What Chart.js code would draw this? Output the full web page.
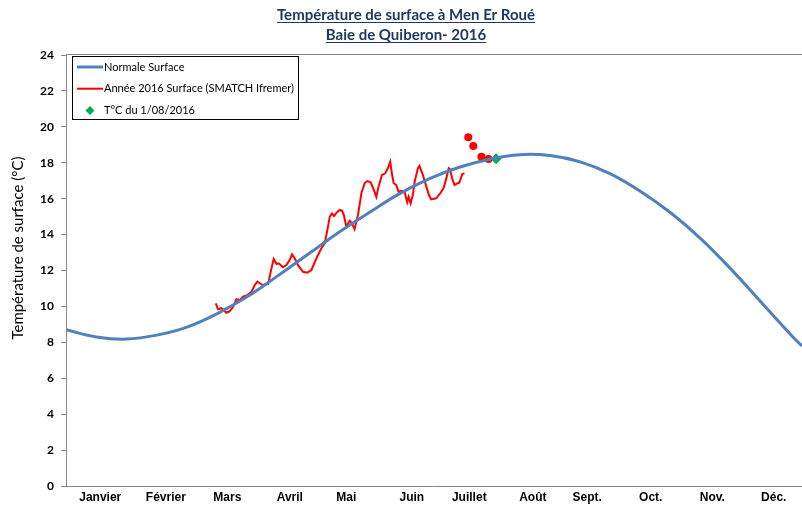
<!DOCTYPE html>
<html>
<head>
<meta charset="utf-8">
<script src="https://cdn.jsdelivr.net/npm/chart.js@4.4.0/dist/chart.umd.min.js"></script>
<style>
html, body { margin: 0; padding: 0; background: #fff; }
#wrap { width: 802px; height: 506px; }
</style>
</head>
<body>
<div id="wrap"><canvas id="graph1"></canvas></div>
<script>
// titles
const titleLines = ["Température de surface à Men Er Roué", "Baie de Quiberon- 2016"];
const yTitle = "Température de surface (°C)";

// x axis: day of year, month labels
const monthLabels = ["Janvier", "Février", "Mars", "Avril", "Mai", "Juin", "Juillet", "Août", "Sept.", "Oct.", "Nov.", "Déc."];
const monthTickDays = [17, 49.5, 80, 111, 139, 171.5, 200, 231.5, 258.5, 290, 320.5, 351];
const yTicks = [0, 2, 4, 6, 8, 10, 12, 14, 16, 18, 20, 22, 24];

// normale surface (read every 15 days)
const normalDays = [0, 15, 30, 45, 60, 75, 90, 105, 120, 135, 150, 165, 180, 195, 210, 225, 240, 255, 270, 285, 300, 315, 330, 345, 360, 365];
const normalTemps = [8.70, 8.30, 8.18, 8.40, 8.85, 9.60, 10.55, 11.70, 12.90, 14.10, 15.20, 16.25, 17.10, 17.75, 18.20, 18.45, 18.40, 18.05, 17.38, 16.40, 15.20, 13.75, 12.05, 10.20, 8.35, 7.80];

// année 2016 surface (SMATCH Ifremer)
const obsDays = [74.3, 75.4, 77.1, 79.6, 81.2, 82.9, 84.5, 86.2, 87.8, 90.0, 92.0, 93.6, 94.9, 96.1, 97.7, 100.2, 101.0, 101.9, 103.0, 104.4, 105.5, 107.6, 109.3, 110.9, 112.1, 113.4, 115.1, 117.5, 119.7, 121.7, 124.2, 126.6, 128.3, 129.6, 130.8, 131.9, 132.9, 134.1, 135.7, 136.9, 137.8, 139.0, 140.7, 141.8, 143.1, 144.8, 146.5, 148.1, 149.4, 151.1, 152.7, 153.9, 155.0, 156.7, 158.3, 159.6, 160.8, 161.6, 162.5, 163.8, 164.9, 166.3, 167.9, 169.2, 169.9, 170.9, 172.0, 172.9, 174.5, 175.3, 177.0, 178.7, 180.0, 181.1, 183.6, 185.6, 187.2, 188.6, 189.8, 190.5, 191.5, 192.7, 194.3, 195.1, 196.5, 197.6];
const obsTemps = [10.17, 9.84, 9.90, 9.65, 9.74, 9.98, 10.40, 10.36, 10.54, 10.63, 10.82, 11.19, 11.38, 11.29, 11.19, 11.25, 11.65, 12.12, 12.64, 12.36, 12.40, 12.18, 12.30, 12.58, 12.90, 12.68, 12.30, 11.93, 11.88, 12.03, 12.68, 13.23, 13.51, 14.25, 14.99, 15.18, 15.03, 15.21, 15.37, 15.33, 15.09, 14.44, 14.77, 14.63, 14.30, 15.09, 16.30, 16.86, 16.98, 16.91, 16.48, 16.10, 16.67, 17.32, 17.41, 17.69, 18.06, 17.41, 16.86, 16.76, 16.39, 16.44, 16.39, 15.80, 16.10, 15.74, 16.20, 16.94, 17.69, 17.82, 17.32, 16.67, 16.20, 15.96, 16.02, 16.30, 16.58, 17.13, 17.69, 17.63, 17.13, 16.76, 16.86, 16.90, 17.37, 17.41];

// isolated measurements end of July
const dotDays = [199.5, 202, 206, 209.5];
const dotTemps = [19.42, 18.93, 18.34, 18.21];

// T°C du 1/08/2016
const aug1Day = [213.3];
const aug1Temp = [18.22];

const pairs = (xs, ys) => xs.map((x, i) => ({ x: x, y: ys[i] }));

const titlePlugin = {
    id: "titleLines",
    afterDraw(chart) {
        const ctx = chart.ctx;
        ctx.save();
        ctx.font = "bold 15px Lato";
        ctx.fillStyle = "#1F3864";
        ctx.strokeStyle = "#1F3864";
        ctx.lineWidth = 1;
        ctx.textAlign = "center";
        ctx.textBaseline = "alphabetic";
        const cx = 406;
        const base = [20, 40];
        titleLines.forEach((t, i) => {
            ctx.fillText(t, cx, base[i]);
            const w = ctx.measureText(t).width;
            ctx.beginPath();
            ctx.moveTo(cx - w / 2, base[i] + 2.5);
            ctx.lineTo(cx + w / 2, base[i] + 2.5);
            ctx.stroke();
        });
        // y axis title
        ctx.font = "15px Lato";
        ctx.fillStyle = "#000";
        ctx.translate(18, 248);
        ctx.rotate(-Math.PI / 2);
        ctx.textBaseline = "middle";
        ctx.fillText(yTitle, 0, 0);
        ctx.restore();
    }
};

const legendBox = {
    id: "legendBox",
    beforeDatasetsDraw(chart) {
        // plot area top border
        const ctx = chart.ctx, a = chart.chartArea;
        ctx.save();
        ctx.strokeStyle = "#868686";
        ctx.lineWidth = 1;
        ctx.beginPath();
        ctx.moveTo(a.left, a.top - 0.5);
        ctx.lineTo(a.right, a.top - 0.5);
        ctx.stroke();
        ctx.restore();
    },
    afterDatasetsDraw(chart) {
        const ctx = chart.ctx;
        const x = chart.chartArea.left + 6, y = chart.chartArea.top + 1;
        ctx.save();
        ctx.fillStyle = "#fff";
        ctx.fillRect(x, y, 226, 63);
        ctx.strokeStyle = "#000";
        ctx.lineWidth = 1;
        ctx.strokeRect(x + 0.5, y + 0.5, 226, 63);
        ctx.font = "11px Lato";
        ctx.textBaseline = "middle";
        ctx.textAlign = "left";
        let row = 0;
        chart.data.datasets.forEach(ds => {
            if (!ds.inLegend) return;
            const ly = y + 11 + row * 21.7;
            if (ds.showLine === false) {
                ctx.fillStyle = ds.backgroundColor;
                ctx.beginPath();
                ctx.moveTo(x + 18, ly - 4.5);
                ctx.lineTo(x + 22.5, ly);
                ctx.lineTo(x + 18, ly + 4.5);
                ctx.lineTo(x + 13.5, ly);
                ctx.closePath();
                ctx.fill();
            } else {
                ctx.strokeStyle = ds.borderColor;
                ctx.lineWidth = ds.borderWidth;
                ctx.beginPath();
                ctx.moveTo(x + 5, ly);
                ctx.lineTo(x + 31, ly);
                ctx.stroke();
            }
            ctx.fillStyle = "#000";
            ctx.fillText(ds.label, x + 32, ly);
            row++;
        });
        ctx.restore();
    }
};

new Chart(document.getElementById("graph1"), {
    type: "line",
    data: {
        datasets: [
            {
                label: "Normale Surface",
                inLegend: true,
                data: pairs(normalDays, normalTemps),
                borderColor: "#4F81BD",
                borderWidth: 3,
                pointRadius: 0,
                tension: 0.4,
                fill: false
            },
            {
                label: "Année 2016 Surface (SMATCH Ifremer)",
                inLegend: true,
                data: pairs(obsDays, obsTemps),
                borderColor: "#FF0000",
                borderWidth: 2,
                pointRadius: 0,
                tension: 0,
                fill: false
            },
            {
                label: "mesures",
                inLegend: false,
                data: pairs(dotDays, dotTemps),
                showLine: false,
                pointRadius: 4,
                pointStyle: "circle",
                backgroundColor: "#FF0000",
                borderColor: "#FF0000",
                borderWidth: 0
            },
            {
                label: "T°C du 1/08/2016",
                inLegend: true,
                data: pairs(aug1Day, aug1Temp),
                showLine: false,
                pointRadius: 5.5,
                pointStyle: "rectRot",
                backgroundColor: "#00B050",
                borderColor: "#00B050",
                borderWidth: 0
            }
        ]
    },
    options: {
        responsive: true,
        maintainAspectRatio: false,
        animation: false,
        layout: { autoPadding: false, padding: { top: 55, left: 0, right: 0, bottom: 0 } },
        plugins: {
            legend: { display: false },
            title: { display: false },
            tooltip: { enabled: false }
        },
        scales: {
            x: {
                type: "linear",
                min: 0,
                max: 365,
                afterFit: s => { s.height = 20; s.paddingLeft = 0; s.paddingRight = 0; },
                afterBuildTicks: s => { s.ticks = monthTickDays.map(v => ({ value: v })); },
                grid: { drawOnChartArea: false, drawTicks: false },
                border: { color: "#868686", width: 1 },
                ticks: {
                    autoSkip: false,
                    maxRotation: 0,
                    padding: 4,
                    color: "#000",
                    font: { family: "'Liberation Sans Narrow', 'Liberation Sans'", size: 12, weight: "bold" },
                    callback: (v, i) => monthLabels[i]
                }
            },
            y: {
                min: 0,
                max: 24,
                afterFit: s => { s.width = 66; },
                afterBuildTicks: s => { s.ticks = yTicks.map(v => ({ value: v })); },
                grid: { drawOnChartArea: false, drawTicks: true, tickLength: 5, color: "#868686" },
                border: { color: "#868686", width: 1 },
                ticks: {
                    padding: 7,
                    color: "#000",
                    font: { family: "Lato", size: 12, weight: "bold" }
                }
            }
        }
    },
    plugins: [legendBox, titlePlugin]
});
</script>
</body>
</html>
